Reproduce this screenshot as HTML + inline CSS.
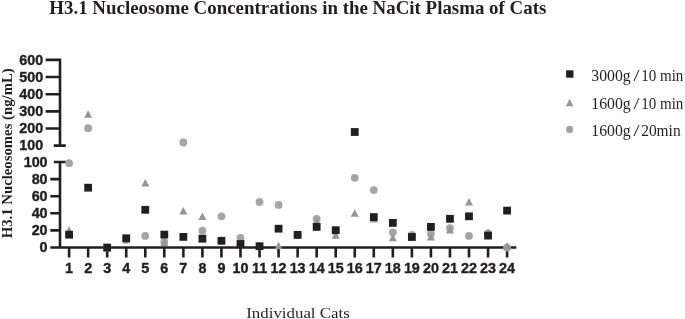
<!DOCTYPE html>
<html><head><meta charset="utf-8"><title>H3.1 Nucleosome Concentrations</title>
<style>html,body{margin:0;padding:0;background:#fff}svg{display:block;will-change:transform}</style></head>
<body>
<svg width="685" height="319" viewBox="0 0 685 319">
<rect width="685" height="319" fill="#fff"/>
<text id="title" x="297.8" y="14.2" text-anchor="middle" font-family="Liberation Serif" font-weight="bold" font-size="19.5" fill="#231f20" textLength="497" lengthAdjust="spacingAndGlyphs">H3.1 Nucleosome Concentrations in the NaCit Plasma of Cats</text>
<text id="ytitle" transform="translate(11.9,153.3) rotate(-90)" text-anchor="middle" font-family="Liberation Serif" font-weight="bold" font-size="13.9" fill="#231f20" textLength="170" lengthAdjust="spacingAndGlyphs">H3.1 Nucleosomes (ng/mL)</text>
<text id="xtitle" x="298" y="318" text-anchor="middle" font-family="Liberation Serif" font-size="15.6" fill="#231f20" textLength="103.5" lengthAdjust="spacingAndGlyphs">Individual Cats</text>
<path d="M60.0,58.6V146.95000000000002M45.6,59.9H60.0M45.6,77.05H60.0M45.6,94.19999999999999H60.0M45.6,111.35H60.0M45.6,128.5H60.0M53.8,145.65H65.8M60.0,160.7V248.8M53.8,162.0H65.8M50.3,179.10H60.0M50.3,196.20H60.0M50.3,213.30H60.0M50.3,230.40H60.0M50.3,247.5H516.3M69.10,247.5V257.4M88.14,247.5V257.4M107.19,247.5V257.4M126.23,247.5V257.4M145.27,247.5V257.4M164.31,247.5V257.4M183.36,247.5V257.4M202.40,247.5V257.4M221.44,247.5V257.4M240.49,247.5V257.4M259.53,247.5V257.4M278.57,247.5V257.4M297.62,247.5V257.4M316.66,247.5V257.4M335.70,247.5V257.4M354.75,247.5V257.4M373.79,247.5V257.4M392.83,247.5V257.4M411.87,247.5V257.4M430.92,247.5V257.4M449.96,247.5V257.4M469.00,247.5V257.4M488.05,247.5V257.4M507.09,247.5V257.4" stroke="#231f20" stroke-width="2.6" fill="none"/>
<text transform="translate(43.20,64.70) scale(0.945,1)" text-anchor="end" font-family="Liberation Sans" font-weight="bold" font-size="15.2" fill="#231f20" stroke="#231f20" stroke-width="0.4">600</text>
<text transform="translate(43.20,81.85) scale(0.945,1)" text-anchor="end" font-family="Liberation Sans" font-weight="bold" font-size="15.2" fill="#231f20" stroke="#231f20" stroke-width="0.4">500</text>
<text transform="translate(43.20,99.00) scale(0.945,1)" text-anchor="end" font-family="Liberation Sans" font-weight="bold" font-size="15.2" fill="#231f20" stroke="#231f20" stroke-width="0.4">400</text>
<text transform="translate(43.20,116.15) scale(0.945,1)" text-anchor="end" font-family="Liberation Sans" font-weight="bold" font-size="15.2" fill="#231f20" stroke="#231f20" stroke-width="0.4">300</text>
<text transform="translate(43.20,133.30) scale(0.945,1)" text-anchor="end" font-family="Liberation Sans" font-weight="bold" font-size="15.2" fill="#231f20" stroke="#231f20" stroke-width="0.4">200</text>
<text transform="translate(43.20,150.45) scale(0.945,1)" text-anchor="end" font-family="Liberation Sans" font-weight="bold" font-size="15.2" fill="#231f20" stroke="#231f20" stroke-width="0.4">100</text>
<text transform="translate(47.60,166.80) scale(0.945,1)" text-anchor="end" font-family="Liberation Sans" font-weight="bold" font-size="15.2" fill="#231f20" stroke="#231f20" stroke-width="0.4">100</text>
<text transform="translate(47.60,183.90) scale(0.945,1)" text-anchor="end" font-family="Liberation Sans" font-weight="bold" font-size="15.2" fill="#231f20" stroke="#231f20" stroke-width="0.4">80</text>
<text transform="translate(47.60,201.00) scale(0.945,1)" text-anchor="end" font-family="Liberation Sans" font-weight="bold" font-size="15.2" fill="#231f20" stroke="#231f20" stroke-width="0.4">60</text>
<text transform="translate(47.60,218.10) scale(0.945,1)" text-anchor="end" font-family="Liberation Sans" font-weight="bold" font-size="15.2" fill="#231f20" stroke="#231f20" stroke-width="0.4">40</text>
<text transform="translate(47.60,235.20) scale(0.945,1)" text-anchor="end" font-family="Liberation Sans" font-weight="bold" font-size="15.2" fill="#231f20" stroke="#231f20" stroke-width="0.4">20</text>
<text transform="translate(47.60,252.30) scale(0.945,1)" text-anchor="end" font-family="Liberation Sans" font-weight="bold" font-size="15.2" fill="#231f20" stroke="#231f20" stroke-width="0.4">0</text>
<text transform="translate(69.10,272.60) scale(0.945,1)" text-anchor="middle" font-family="Liberation Sans" font-weight="bold" font-size="15.2" fill="#231f20" stroke="#231f20" stroke-width="0.4">1</text>
<text transform="translate(88.14,272.60) scale(0.945,1)" text-anchor="middle" font-family="Liberation Sans" font-weight="bold" font-size="15.2" fill="#231f20" stroke="#231f20" stroke-width="0.4">2</text>
<text transform="translate(107.19,272.60) scale(0.945,1)" text-anchor="middle" font-family="Liberation Sans" font-weight="bold" font-size="15.2" fill="#231f20" stroke="#231f20" stroke-width="0.4">3</text>
<text transform="translate(126.23,272.60) scale(0.945,1)" text-anchor="middle" font-family="Liberation Sans" font-weight="bold" font-size="15.2" fill="#231f20" stroke="#231f20" stroke-width="0.4">4</text>
<text transform="translate(145.27,272.60) scale(0.945,1)" text-anchor="middle" font-family="Liberation Sans" font-weight="bold" font-size="15.2" fill="#231f20" stroke="#231f20" stroke-width="0.4">5</text>
<text transform="translate(164.31,272.60) scale(0.945,1)" text-anchor="middle" font-family="Liberation Sans" font-weight="bold" font-size="15.2" fill="#231f20" stroke="#231f20" stroke-width="0.4">6</text>
<text transform="translate(183.36,272.60) scale(0.945,1)" text-anchor="middle" font-family="Liberation Sans" font-weight="bold" font-size="15.2" fill="#231f20" stroke="#231f20" stroke-width="0.4">7</text>
<text transform="translate(202.40,272.60) scale(0.945,1)" text-anchor="middle" font-family="Liberation Sans" font-weight="bold" font-size="15.2" fill="#231f20" stroke="#231f20" stroke-width="0.4">8</text>
<text transform="translate(221.44,272.60) scale(0.945,1)" text-anchor="middle" font-family="Liberation Sans" font-weight="bold" font-size="15.2" fill="#231f20" stroke="#231f20" stroke-width="0.4">9</text>
<text transform="translate(240.49,272.60) scale(0.945,1)" text-anchor="middle" font-family="Liberation Sans" font-weight="bold" font-size="15.2" fill="#231f20" stroke="#231f20" stroke-width="0.4">10</text>
<text transform="translate(259.53,272.60) scale(0.945,1)" text-anchor="middle" font-family="Liberation Sans" font-weight="bold" font-size="15.2" fill="#231f20" stroke="#231f20" stroke-width="0.4">11</text>
<text transform="translate(278.57,272.60) scale(0.945,1)" text-anchor="middle" font-family="Liberation Sans" font-weight="bold" font-size="15.2" fill="#231f20" stroke="#231f20" stroke-width="0.4">12</text>
<text transform="translate(297.62,272.60) scale(0.945,1)" text-anchor="middle" font-family="Liberation Sans" font-weight="bold" font-size="15.2" fill="#231f20" stroke="#231f20" stroke-width="0.4">13</text>
<text transform="translate(316.66,272.60) scale(0.945,1)" text-anchor="middle" font-family="Liberation Sans" font-weight="bold" font-size="15.2" fill="#231f20" stroke="#231f20" stroke-width="0.4">14</text>
<text transform="translate(335.70,272.60) scale(0.945,1)" text-anchor="middle" font-family="Liberation Sans" font-weight="bold" font-size="15.2" fill="#231f20" stroke="#231f20" stroke-width="0.4">15</text>
<text transform="translate(354.75,272.60) scale(0.945,1)" text-anchor="middle" font-family="Liberation Sans" font-weight="bold" font-size="15.2" fill="#231f20" stroke="#231f20" stroke-width="0.4">16</text>
<text transform="translate(373.79,272.60) scale(0.945,1)" text-anchor="middle" font-family="Liberation Sans" font-weight="bold" font-size="15.2" fill="#231f20" stroke="#231f20" stroke-width="0.4">17</text>
<text transform="translate(392.83,272.60) scale(0.945,1)" text-anchor="middle" font-family="Liberation Sans" font-weight="bold" font-size="15.2" fill="#231f20" stroke="#231f20" stroke-width="0.4">18</text>
<text transform="translate(411.87,272.60) scale(0.945,1)" text-anchor="middle" font-family="Liberation Sans" font-weight="bold" font-size="15.2" fill="#231f20" stroke="#231f20" stroke-width="0.4">19</text>
<text transform="translate(430.92,272.60) scale(0.945,1)" text-anchor="middle" font-family="Liberation Sans" font-weight="bold" font-size="15.2" fill="#231f20" stroke="#231f20" stroke-width="0.4">20</text>
<text transform="translate(449.96,272.60) scale(0.945,1)" text-anchor="middle" font-family="Liberation Sans" font-weight="bold" font-size="15.2" fill="#231f20" stroke="#231f20" stroke-width="0.4">21</text>
<text transform="translate(469.00,272.60) scale(0.945,1)" text-anchor="middle" font-family="Liberation Sans" font-weight="bold" font-size="15.2" fill="#231f20" stroke="#231f20" stroke-width="0.4">22</text>
<text transform="translate(488.05,272.60) scale(0.945,1)" text-anchor="middle" font-family="Liberation Sans" font-weight="bold" font-size="15.2" fill="#231f20" stroke="#231f20" stroke-width="0.4">23</text>
<text transform="translate(507.09,272.60) scale(0.945,1)" text-anchor="middle" font-family="Liberation Sans" font-weight="bold" font-size="15.2" fill="#231f20" stroke="#231f20" stroke-width="0.4">24</text>
<circle cx="69.10" cy="163.2" r="3.9" fill="#a3a5a8"/>
<circle cx="88.14" cy="128.2" r="3.9" fill="#a3a5a8"/>
<circle cx="107.19" cy="247.5" r="3.9" fill="#a3a5a8"/>
<circle cx="126.23" cy="239.9" r="3.9" fill="#a3a5a8"/>
<circle cx="145.27" cy="235.9" r="3.9" fill="#a3a5a8"/>
<circle cx="164.31" cy="242" r="3.9" fill="#a3a5a8"/>
<circle cx="183.36" cy="142.5" r="3.9" fill="#a3a5a8"/>
<circle cx="202.40" cy="230.7" r="3.9" fill="#a3a5a8"/>
<circle cx="221.44" cy="216.3" r="3.9" fill="#a3a5a8"/>
<circle cx="240.49" cy="238" r="3.9" fill="#a3a5a8"/>
<circle cx="259.53" cy="202" r="3.9" fill="#a3a5a8"/>
<circle cx="278.57" cy="204.9" r="3.9" fill="#a3a5a8"/>
<circle cx="297.62" cy="235" r="3.9" fill="#a3a5a8"/>
<circle cx="316.66" cy="218.8" r="3.9" fill="#a3a5a8"/>
<circle cx="335.70" cy="231" r="3.9" fill="#a3a5a8"/>
<circle cx="354.75" cy="177.8" r="3.9" fill="#a3a5a8"/>
<circle cx="373.79" cy="190.1" r="3.9" fill="#a3a5a8"/>
<circle cx="392.83" cy="232.3" r="3.9" fill="#a3a5a8"/>
<circle cx="411.87" cy="235" r="3.9" fill="#a3a5a8"/>
<circle cx="430.92" cy="233.8" r="3.9" fill="#a3a5a8"/>
<circle cx="449.96" cy="228.2" r="3.9" fill="#a3a5a8"/>
<circle cx="469.00" cy="235.9" r="3.9" fill="#a3a5a8"/>
<circle cx="488.05" cy="233.3" r="3.9" fill="#a3a5a8"/>
<circle cx="507.09" cy="247.6" r="3.9" fill="#a3a5a8"/>
<path d="M65.10,233.65L69.10,226.15L73.10,233.65Z" fill="#939598"/>
<path d="M84.14,117.75L88.14,110.25L92.14,117.75Z" fill="#939598"/>
<path d="M103.19,251.25L107.19,243.75L111.19,251.25Z" fill="#939598"/>
<path d="M122.23,242.25L126.23,234.75L130.23,242.25Z" fill="#939598"/>
<path d="M141.27,186.55L145.27,179.05L149.27,186.55Z" fill="#939598"/>
<path d="M160.31,245.95L164.31,238.45L168.31,245.95Z" fill="#939598"/>
<path d="M179.36,214.55L183.36,207.05L187.36,214.55Z" fill="#939598"/>
<path d="M198.40,220.05L202.40,212.55L206.40,220.05Z" fill="#939598"/>
<path d="M217.44,243.75L221.44,236.25L225.44,243.75Z" fill="#939598"/>
<path d="M236.49,246.75L240.49,239.25L244.49,246.75Z" fill="#939598"/>
<path d="M255.53,249.75L259.53,242.25L263.53,249.75Z" fill="#939598"/>
<path d="M274.57,249.15L278.57,241.65L282.57,249.15Z" fill="#939598"/>
<path d="M293.62,237.75L297.62,230.25L301.62,237.75Z" fill="#939598"/>
<path d="M312.66,224.75L316.66,217.25L320.66,224.75Z" fill="#939598"/>
<path d="M331.70,238.75L335.70,231.25L339.70,238.75Z" fill="#939598"/>
<path d="M350.75,216.75L354.75,209.25L358.75,216.75Z" fill="#939598"/>
<path d="M369.79,222.45L373.79,214.95L377.79,222.45Z" fill="#939598"/>
<path d="M388.83,241.35L392.83,233.85L396.83,241.35Z" fill="#939598"/>
<path d="M407.87,240.75L411.87,233.25L415.87,240.75Z" fill="#939598"/>
<path d="M426.92,240.45L430.92,232.95L434.92,240.45Z" fill="#939598"/>
<path d="M445.96,233.55L449.96,226.05L453.96,233.55Z" fill="#939598"/>
<path d="M465.00,205.55L469.00,198.05L473.00,205.55Z" fill="#939598"/>
<path d="M484.05,236.05L488.05,228.55L492.05,236.05Z" fill="#939598"/>
<path d="M503.09,249.55L507.09,242.05L511.09,249.55Z" fill="#939598"/>
<rect x="65.20" y="230.80" width="7.8" height="7.8" fill="#231f20"/>
<rect x="84.24" y="183.80" width="7.8" height="7.8" fill="#231f20"/>
<rect x="103.29" y="243.70" width="7.8" height="7.8" fill="#231f20"/>
<rect x="122.33" y="234.40" width="7.8" height="7.8" fill="#231f20"/>
<rect x="141.37" y="205.90" width="7.8" height="7.8" fill="#231f20"/>
<rect x="160.41" y="230.70" width="7.8" height="7.8" fill="#231f20"/>
<rect x="179.46" y="233.00" width="7.8" height="7.8" fill="#231f20"/>
<rect x="198.50" y="234.80" width="7.8" height="7.8" fill="#231f20"/>
<rect x="217.54" y="236.90" width="7.8" height="7.8" fill="#231f20"/>
<rect x="236.59" y="240.10" width="7.8" height="7.8" fill="#231f20"/>
<rect x="255.63" y="242.30" width="7.8" height="7.8" fill="#231f20"/>
<rect x="274.67" y="224.80" width="7.8" height="7.8" fill="#231f20"/>
<rect x="293.72" y="231.00" width="7.8" height="7.8" fill="#231f20"/>
<rect x="312.76" y="223.00" width="7.8" height="7.8" fill="#231f20"/>
<rect x="331.80" y="226.30" width="7.8" height="7.8" fill="#231f20"/>
<rect x="350.85" y="128.10" width="7.8" height="7.8" fill="#231f20"/>
<rect x="369.89" y="213.20" width="7.8" height="7.8" fill="#231f20"/>
<rect x="388.93" y="219.00" width="7.8" height="7.8" fill="#231f20"/>
<rect x="407.97" y="233.10" width="7.8" height="7.8" fill="#231f20"/>
<rect x="427.02" y="223.00" width="7.8" height="7.8" fill="#231f20"/>
<rect x="446.06" y="214.90" width="7.8" height="7.8" fill="#231f20"/>
<rect x="465.10" y="212.40" width="7.8" height="7.8" fill="#231f20"/>
<rect x="484.15" y="231.70" width="7.8" height="7.8" fill="#231f20"/>
<rect x="503.19" y="206.70" width="7.8" height="7.8" fill="#231f20"/>
<rect x="566.0999999999999" y="70.3" width="7.4" height="7.4" fill="#231f20"/>
<path d="M565.8000000000001,106.3L569.6,98.8L573.4,106.3Z" fill="#939598"/>
<circle cx="569.6" cy="129.4" r="3.6" fill="#a3a5a8"/>
<text x="591.3" y="80.9" font-family="Liberation Serif" font-size="16" fill="#231f20" textLength="39.4" lengthAdjust="spacingAndGlyphs">3000g</text>
<text x="636.6" y="80.9" font-family="Liberation Serif" font-size="16" fill="#231f20" text-anchor="middle" transform="translate(636.6,0) scale(1.35,1) translate(-636.6,0)">/</text>
<text x="641.2" y="80.9" font-family="Liberation Serif" font-size="16" fill="#231f20" textLength="42.2" lengthAdjust="spacingAndGlyphs">10 min</text>
<text x="591.3" y="109.1" font-family="Liberation Serif" font-size="16" fill="#231f20" textLength="39.4" lengthAdjust="spacingAndGlyphs">1600g</text>
<text x="636.6" y="109.1" font-family="Liberation Serif" font-size="16" fill="#231f20" text-anchor="middle" transform="translate(636.6,0) scale(1.35,1) translate(-636.6,0)">/</text>
<text x="641.2" y="109.1" font-family="Liberation Serif" font-size="16" fill="#231f20" textLength="42.2" lengthAdjust="spacingAndGlyphs">10 min</text>
<text x="591.3" y="136.1" font-family="Liberation Serif" font-size="16" fill="#231f20" textLength="39.4" lengthAdjust="spacingAndGlyphs">1600g</text>
<text x="636.6" y="136.1" font-family="Liberation Serif" font-size="16" fill="#231f20" text-anchor="middle" transform="translate(636.6,0) scale(1.35,1) translate(-636.6,0)">/</text>
<text x="641.2" y="136.1" font-family="Liberation Serif" font-size="16" fill="#231f20" textLength="39.4" lengthAdjust="spacingAndGlyphs">20min</text>
</svg>
</body></html>
